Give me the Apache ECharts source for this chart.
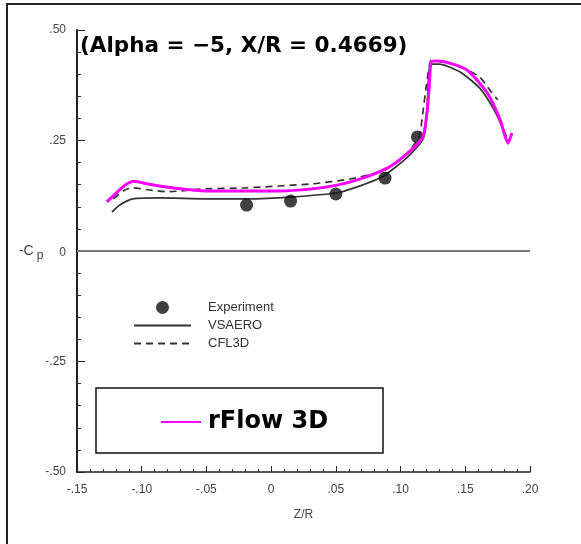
<!DOCTYPE html>
<html>
<head>
<meta charset="utf-8">
<script src="https://cdn.jsdelivr.net/npm/echarts@6/dist/echarts.min.js"></script>
<style>
  html, body { margin: 0; padding: 0; background: #fff; }
  #chart { width: 581px; height: 544px; }
</style>
</head>
<body>
<div id="chart"></div>
<script>
// tick labels
var xTickLabels = ['-.15', '-.10', '-.05', '0', '.05', '.10', '.15', '.20']
var yTickLabels = ['-.50', '-.25', '0', '.25', '.50']

// Experiment (dots)
var expZ = [-0.019, 0.015, 0.050, 0.088, 0.113]
var expCp = [0.104, 0.113, 0.129, 0.165, 0.258]

// VSAERO (solid)
var vsaeroZ = [-0.123, -0.117, -0.107, -0.086, -0.050, -0.019, 0.015, 0.053, 0.084, 0.103, 0.117, 0.120, 0.123, 0.130, 0.146, 0.161, 0.171, 0.178, 0.182]
var vsaeroCp = [0.088, 0.104, 0.118, 0.120, 0.118, 0.118, 0.122, 0.133, 0.165, 0.206, 0.251, 0.296, 0.423, 0.423, 0.405, 0.369, 0.326, 0.285, 0.258]

// CFL3D (dashed)
var cflZ = [-0.122, -0.113, -0.107, -0.094, -0.080, -0.055, -0.019, 0.032, 0.061, 0.084, 0.100, 0.114, 0.117, 0.120, 0.124, 0.134, 0.148, 0.161, 0.169, 0.175]
var cflCp = [0.118, 0.138, 0.143, 0.138, 0.134, 0.140, 0.143, 0.152, 0.163, 0.179, 0.206, 0.256, 0.308, 0.376, 0.432, 0.428, 0.414, 0.394, 0.364, 0.342]

// rFlow 3D (magenta)
var rflowZ = [-0.127, -0.119, -0.113, -0.106, -0.094, -0.074, -0.050, -0.016, 0.007, 0.030, 0.051, 0.069, 0.090, 0.103, 0.117, 0.120, 0.122, 0.1236, 0.128, 0.138, 0.151, 0.161, 0.169, 0.177, 0.183, 0.186]
var rflowCp = [0.111, 0.133, 0.149, 0.158, 0.151, 0.142, 0.136, 0.136, 0.136, 0.140, 0.149, 0.163, 0.188, 0.215, 0.256, 0.303, 0.364, 0.428, 0.430, 0.425, 0.410, 0.380, 0.348, 0.296, 0.244, 0.267]

function zip(a, b) {
  return a.map(function (v, i) { return [v, b[i]] })
}

var labelFont = 'Liberation Sans'
var boldFont = 'DejaVu Sans'

var option = {
  animation: false,
  backgroundColor: '#fff',
  title: {
    text: '(Alpha = \u22125, X/R = 0.4669)',
    left: 80,
    top: 35,
    padding: 0,
    textStyle: {
      fontFamily: boldFont,
      fontWeight: 'bold',
      fontSize: 21.5,
      color: '#000'
    }
  },
  graphic: [
    { // 外框
      type: 'rect',
      shape: { x: 7, y: 4, width: 700, height: 700 },
      style: { fill: 'none', stroke: '#222', lineWidth: 2 },
      silent: true
    },
    { // rFlow 图例框
      type: 'rect',
      shape: { x: 96, y: 388, width: 287, height: 65 },
      style: { fill: '#fff', stroke: '#111', lineWidth: 1.5 },
      silent: true,
      z: 1
    }
  ],
  legend: [
    {
      data: [
        { name: 'Experiment' },
        { name: 'VSAERO', itemStyle: { opacity: 0 } },
        { name: 'CFL3D', itemStyle: { opacity: 0 } }
      ],
      orient: 'vertical',
      left: 133,
      top: 301,
      padding: 0,
      itemGap: 5,
      itemWidth: 57,
      itemHeight: 13,
      textStyle: { fontFamily: labelFont, fontSize: 13, color: '#333', padding: [0, 0, 0, 12] }
    },
    {
      data: [{ name: 'rFlow 3D', itemStyle: { opacity: 0 } }],
      left: 160,
      top: 410,
      padding: 0,
      itemWidth: 40,
      itemHeight: 12,
      z: 5,
      textStyle: { fontFamily: boldFont, fontWeight: 'bold', fontSize: 24, color: '#000', padding: [0, 0, 0, 2] }
    }
  ],
  grid: {
    left: 77,
    top: 30,
    width: 453,
    height: 442,
    containLabel: false
  },
  xAxis: {
    type: 'value',
    min: -0.15,
    max: 0.2,
    interval: 0.05,
    name: 'Z/R',
    nameLocation: 'middle',
    nameGap: 37,
    nameTextStyle: { fontFamily: labelFont, fontSize: 12, color: '#444' },
    axisLine: { show: true, onZero: false, lineStyle: { color: '#222', width: 1.5 } },
    axisTick: { show: true, inside: true, length: 6, lineStyle: { color: '#222' } },
    minorTick: { show: true, splitNumber: 5, length: 3, lineStyle: { color: '#333' } },
    axisLabel: {
      margin: 12,
      fontFamily: labelFont,
      fontSize: 12,
      color: '#444',
      formatter: function (v, i) { return xTickLabels[i] }
    },
    splitLine: { show: false }
  },
  yAxis: {
    type: 'value',
    min: -0.5,
    max: 0.5,
    interval: 0.25,
    axisLine: { show: true, onZero: false, lineStyle: { color: '#222', width: 2 } },
    axisTick: { show: true, inside: true, length: 8, lineStyle: { color: '#222' } },
    minorTick: { show: true, splitNumber: 5, length: 4, lineStyle: { color: '#333' } },
    axisLabel: {
      margin: 11,
      fontFamily: labelFont,
      fontSize: 12,
      color: '#444',
      formatter: function (v, i) {
        if (yTickLabels[i] === '0') return '{c|-C}{p|p}{n|0}'
        return yTickLabels[i]
      },
      rich: {
        c: { fontFamily: labelFont, fontSize: 14, color: '#444' },
        p: { fontFamily: labelFont, fontSize: 12, color: '#444', padding: [9, 0, 0, 3] },
        n: { fontFamily: labelFont, fontSize: 12, color: '#444', padding: [4, 0, 0, 16] }
      }
    },
    splitLine: { show: false }
  },
  series: [
    {
      name: 'Experiment',
      type: 'scatter',
      symbol: 'circle',
      symbolSize: 13,
      itemStyle: { color: '#111' },
      data: zip(expZ, expCp),
      z: 3
    },
    {
      name: 'VSAERO',
      type: 'line',
      showSymbol: false,
      symbol: 'none',
      smooth: 0.2,
      lineStyle: { color: '#333', width: 1.7 },
      itemStyle: { color: '#333' },
      data: zip(vsaeroZ, vsaeroCp),
      markLine: { // 零线
        silent: true,
        symbol: 'none',
        label: { show: false },
        lineStyle: { color: '#777', width: 2, type: 'solid' },
        data: [{ yAxis: 0 }]
      }
    },
    {
      name: 'CFL3D',
      type: 'line',
      showSymbol: false,
      symbol: 'none',
      smooth: 0.2,
      lineStyle: { color: '#333', width: 1.7, type: [7, 5] },
      itemStyle: { color: '#333' },
      data: zip(cflZ, cflCp)
    },
    {
      name: 'rFlow 3D',
      type: 'line',
      showSymbol: false,
      symbol: 'none',
      smooth: 0.2,
      lineStyle: { color: '#ff00ff', width: 3 },
      itemStyle: { color: '#ff00ff' },
      data: zip(rflowZ, rflowCp),
      z: 4
    }
  ]
}

var chartObj = echarts.init(document.getElementById('chart'))
chartObj.setOption(option)
</script>
</body>
</html>
